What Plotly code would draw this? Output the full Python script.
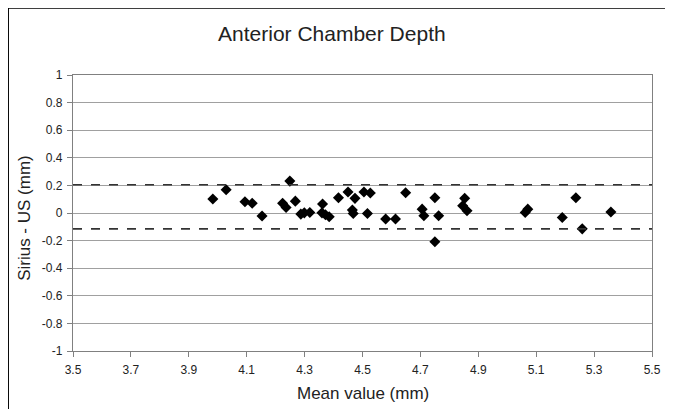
import plotly.graph_objects as go

mean_value = [3.983, 4.029, 4.094, 4.119, 4.153, 4.224, 4.236, 4.249, 4.268, 4.287,
              4.299, 4.318, 4.362, 4.360, 4.372, 4.385, 4.417, 4.450, 4.474, 4.465,
              4.468, 4.505, 4.527, 4.517, 4.580, 4.614, 4.649, 4.706, 4.712, 4.750,
              4.763, 4.750, 4.853, 4.846, 4.861, 5.062, 5.071, 5.190, 5.237, 5.259,
              5.358]
difference = [0.101, 0.168, 0.081, 0.070, -0.022, 0.070, 0.040, 0.231, 0.086, -0.008,
              0.001, 0.004, 0.065, 0.001, -0.012, -0.027, 0.110, 0.152, 0.106, 0.021,
              -0.003, 0.152, 0.145, -0.003, -0.044, -0.044, 0.147, 0.028, -0.020, 0.110,
              -0.020, -0.209, 0.106, 0.052, 0.016, 0.004, 0.028, -0.032, 0.110, -0.115,
              0.007]
upper_limit = 0.205
lower_limit = -0.115
x_ticks = [3.5, 3.7, 3.9, 4.1, 4.3, 4.5, 4.7, 4.9, 5.1, 5.3, 5.5]
y_ticks = [1, 0.8, 0.6, 0.4, 0.2, 0, -0.2, -0.4, -0.6, -0.8, -1]

FONT = "Liberation Sans, Arial, sans-serif"

fig = go.Figure()
fig.add_trace(go.Scatter(x=mean_value, y=difference, mode="markers",
                         marker=dict(symbol="diamond", size=8.5, color="black"),
                         showlegend=False, cliponaxis=False))
for lim in (upper_limit, lower_limit):
    fig.add_shape(type="line", xref="paper", x0=0, x1=1, yref="y", y0=lim, y1=lim,
                  line=dict(color="#333333", width=1.6, dash="dash"))

# outer frame
fig.add_shape(type="rect", xref="paper", yref="paper", x0=-0.1119, x1=1.0258, y0=-0.3, y1=1.243,
              line=dict(color="black", width=1.5), layer="below")

fig.add_annotation(text="Mean value (mm)", xref="paper", yref="paper", x=0.5, y=-0.153,
                   xanchor="center", yanchor="middle", showarrow=False,
                   font=dict(family=FONT, size=17, color="#222222"))
fig.add_annotation(text="Sirius - US (mm)", xref="paper", yref="paper", x=-0.0826, y=0.483,
                   xanchor="center", yanchor="middle", showarrow=False, textangle=-90,
                   font=dict(family=FONT, size=17, color="#222222"))

fig.update_layout(
    width=665, height=401,
    margin=dict(l=65, r=19, t=67, b=58),
    paper_bgcolor="white", plot_bgcolor="white",
    font=dict(family=FONT, color="#222222"),
    title=dict(text="Anterior Chamber Depth", x=0.487, xanchor="center", y=0.935, yanchor="middle",
               font=dict(size=21, color="#222222")),
    xaxis=dict(range=[3.5, 5.5], tickvals=x_ticks, ticktext=[f"{v:.1f}" for v in x_ticks],
               showgrid=False, zeroline=False, showline=True, linecolor="#808080", linewidth=1.2,
               mirror=True, ticks="outside", ticklen=5, tickcolor="#808080",
               tickfont=dict(size=12, color="#222222"), ticklabelstandoff=2),
    yaxis=dict(range=[-1, 1], tickvals=y_ticks, ticktext=[f"{v:g}" for v in y_ticks],
               showgrid=True, gridcolor="#a0a0a0", gridwidth=1,
               zeroline=False, showline=True, linecolor="#808080", linewidth=1.2,
               mirror=True, ticks="outside", ticklen=5, tickcolor="#808080",
               tickfont=dict(size=12, color="#222222"), ticklabelstandoff=2),
)

fig.write_html("out.html")
